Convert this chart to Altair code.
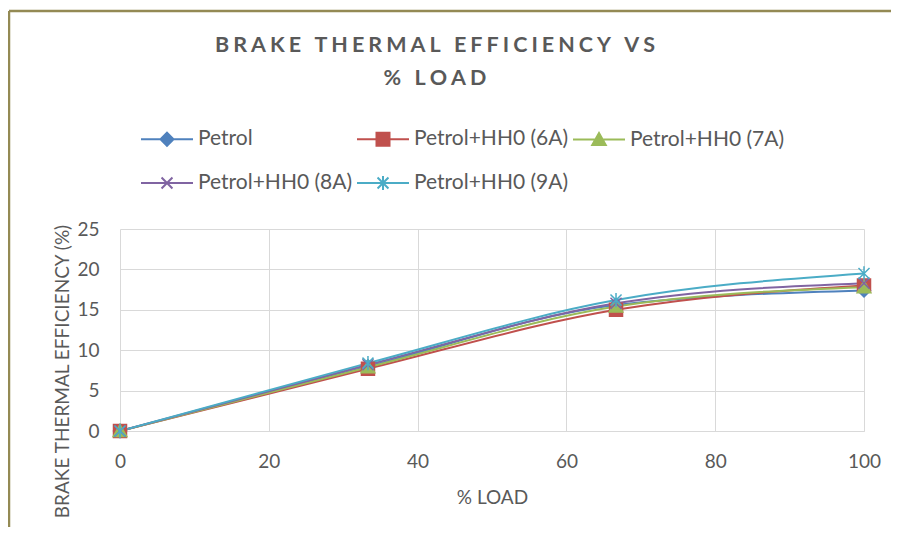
import altair as alt
import pandas as pd

# ---- data ----
load = [0, 33.33, 66.67, 100]
series_names = ["Petrol", "Petrol+HH0 (6A)", "Petrol+HH0 (7A)", "Petrol+HH0 (8A)", "Petrol+HH0 (9A)"]
petrol = [0, 8.0, 15.6, 17.4]
hh0_6a = [0, 7.7, 15.0, 18.0]
hh0_7a = [0, 7.9, 15.4, 17.8]
hh0_8a = [0, 8.2, 15.8, 18.3]
hh0_9a = [0, 8.4, 16.2, 19.5]
x_ticks = [0, 20, 40, 60, 80, 100]
y_ticks = [0, 5, 10, 15, 20, 25]

colors = ["#4F81BD", "#C0504D", "#9BBB59", "#8064A2", "#4BACC6"]

mk_diamond = "M0,-1L1,0L0,1L-1,0Z"
mk_square = "M-1,-1H1V1H-1Z"
mk_triangle = "M0,-1L1.05,0.85H-1.05Z"
mk_x = "M-0.85,-0.85L0.85,0.85M-0.85,0.85L0.85,-0.85"
mk_star = "M-0.85,-0.85L0.85,0.85M-0.85,0.85L0.85,-0.85M0,-1.1V1.1"
markers = [mk_diamond, mk_square, mk_triangle, mk_x, mk_star]
marker_filled = [True, True, True, False, False]

lg_diamond = "M-1,0H1M0,-0.25L0.25,0L0,0.25L-0.25,0Z"
lg_square = "M-1,0H1M-0.25,-0.25H0.25V0.25H-0.25Z"
lg_triangle = "M-1,0H1M0,-0.25L0.26,0.21H-0.26Z"
lg_x = "M-1,0H1M-0.21,-0.21L0.21,0.21M-0.21,0.21L0.21,-0.21"
lg_star = "M-1,0H1M-0.21,-0.21L0.21,0.21M-0.21,0.21L0.21,-0.21M0,-0.27V0.27"
legend_shapes = [lg_diamond, lg_square, lg_triangle, lg_x, lg_star]

all_vals = [petrol, hh0_6a, hh0_7a, hh0_8a, hh0_9a]
rows = []
for name, vals in zip(series_names, all_vals):
    for l, v in zip(load, vals):
        rows.append({"load": l, "bte": v, "series": name})
df = pd.DataFrame(rows)

FONT = "Lato"
TXT = "#595959"

x_enc = alt.X("load:Q", scale=alt.Scale(domain=[0, 100], nice=False),
              axis=alt.Axis(values=x_ticks, title="% LOAD", grid=True, ticks=False, tickSize=0,
                            labelPadding=21, labelFlush=False, titleY=66, titleX=372,
                            titleBaseline="middle", titleAlign="center", titlePadding=0,
                            domain=True, domainColor="#D9D9D9", domainWidth=1))
y_enc = alt.Y("bte:Q", scale=alt.Scale(domain=[0, 25], nice=False),
              axis=alt.Axis(values=y_ticks, title="BRAKE THERMAL EFFICIENCY (%)", grid=True,
                            ticks=False, tickSize=0, labelPadding=21, labelFlush=False, domain=False,
                            titleX=-58, titleY=142, titleAngle=-90, titleAlign="center",
                            titleBaseline="middle"))

base = alt.Chart(df)

line_layers = []
marker_layers = []
for i, (name, col, shp, filled) in enumerate(zip(series_names, colors, markers, marker_filled)):
    sub = base.transform_filter(alt.datum.series == name)
    ln = sub.mark_line(interpolate="monotone", strokeWidth=2, color=col)
    line_layers.append(ln.encode(x=x_enc, y=y_enc) if i == 0 else ln.encode(x="load:Q", y="bte:Q"))
    marker_layers.append(
        sub.mark_point(shape=shp, size=169, filled=filled, opacity=1,
                       fill=col if filled else "transparent", stroke=col, strokeWidth=1.5)
        .encode(x="load:Q", y="bte:Q")
    )

leg = alt.Legend(title=None, orient="none", legendX=20, legendY=-117, columns=3,
                 direction="horizontal",
                 symbolSize=2704, symbolStrokeWidth=2, symbolOpacity=1,
                 labelFont=FONT, labelFontSize=21, labelColor=TXT, labelOffset=4,
                 labelLimit=300, columnPadding=0, rowPadding=6)

# legend-only layer: no rows pass the filter, entries come from the explicit domains
legend_layer = base.transform_filter("datum.load < -1").mark_point(filled=True).encode(
    x="load:Q", y="bte:Q",
    fill=alt.Fill("series:N", scale=alt.Scale(domain=series_names, range=colors), legend=leg),
    stroke=alt.Stroke("series:N", scale=alt.Scale(domain=series_names, range=colors), legend=leg),
    shape=alt.Shape("series:N", scale=alt.Scale(domain=series_names, range=legend_shapes), legend=leg),
)

one = pd.DataFrame({"d": [0]})
border_top = alt.Chart(one).mark_rule(color="#948A54", strokeWidth=2.5).encode(
    x=alt.value(-111), x2=alt.value(1000), y=alt.value(-218))
border_left = alt.Chart(one).mark_rule(color="#948A54", strokeWidth=2.5).encode(
    x=alt.value(-111), y=alt.value(-218), y2=alt.value(500))

def spaced(s):
    return "\u2009\u200a".join(s)

chart = alt.layer(*line_layers, *marker_layers, legend_layer, border_top, border_left).properties(
    width=744, height=202,
    autosize="none",
    background="white",
    padding={"left": 112, "top": 221, "right": 27, "bottom": 96},
    title=alt.TitleParams(
        text=[spaced("BRAKE THERMAL EFFICIENCY VS"), spaced("% LOAD")],
        font=FONT, fontSize=21.5, fontWeight="bold", color=TXT,
        anchor="middle", dx=-57, offset=0, dy=80, lineHeight=33,
    ),
).configure_view(stroke=None).configure_axis(
    labelFont=FONT, labelFontSize=19, labelColor=TXT,
    titleFont=FONT, titleFontSize=19, titleFontWeight="normal", titleColor=TXT,
    gridColor="#D9D9D9", gridWidth=1,
)

chart.save("out.html", embed_options={"renderer": "svg", "actions": False})
